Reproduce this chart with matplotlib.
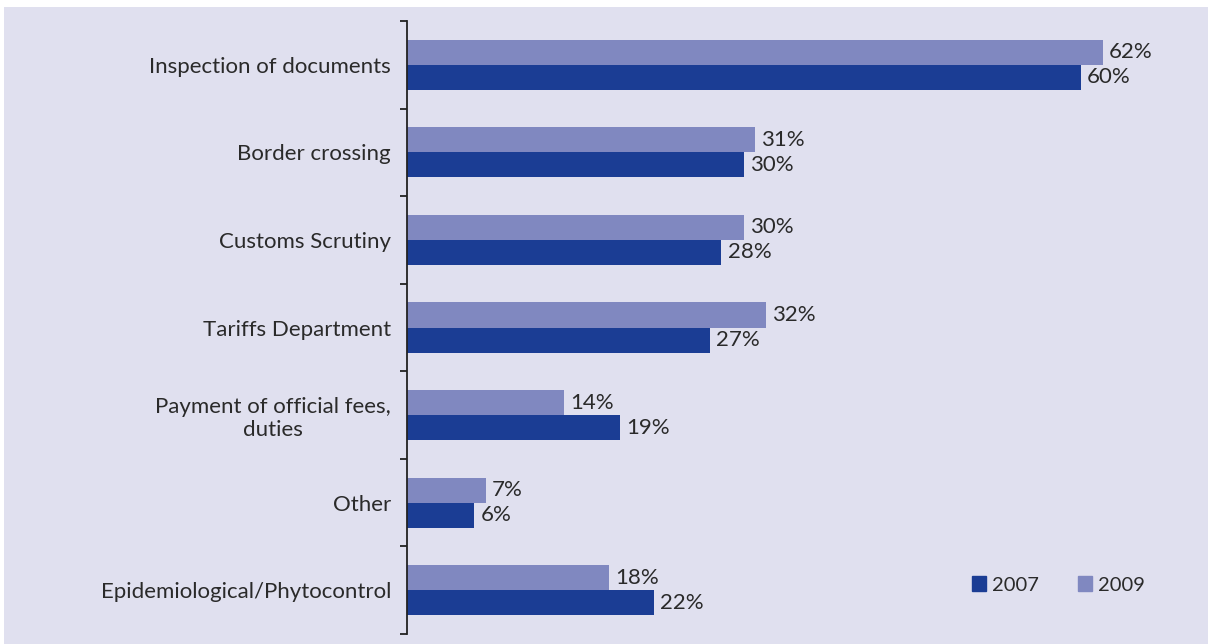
import matplotlib
matplotlib.use("Agg")
import matplotlib.pyplot as plt
from matplotlib.patches import Rectangle
import numpy as np

categories = [
    "Inspection of documents",
    "Border crossing",
    "Customs Scrutiny",
    "Tariffs Department",
    "Payment of official fees,\nduties",
    "Other",
    "Epidemiological/Phytocontrol",
]
values_2009 = [62, 31, 30, 32, 14, 7, 18]
values_2007 = [60, 30, 28, 27, 19, 6, 22]
series_labels = ["2007", "2009"]

BG = "#e0e0ef"
C2009 = "#8088c0"
C2007 = "#1b3d94"
TXT = "#2a2a2a"
FS = 16
LFS = 14.5

plt.rcParams["font.family"] = ["Lato", "DejaVu Sans"]

W, H = 1208, 644
fig = plt.figure(figsize=(W / 100, H / 100), dpi=100, facecolor="white")
fig.patches.append(Rectangle((4 / W, 0), 1 - 4 / W, 1 - 7 / H,
                             transform=fig.transFigure, facecolor=BG,
                             edgecolor="none", zorder=-10))

ax_left, ax_right = 407, 1208
ax_top, ax_bot = 21, 634
ax = fig.add_axes([ax_left / W, 1 - ax_bot / H, (ax_right - ax_left) / W,
                   (ax_bot - ax_top) / H])
ax.set_facecolor("none")

n = len(categories)
y = np.arange(n)
bh = 0.286
ax.barh(y - bh / 2, values_2009, height=bh, color=C2009, label="2009")
ax.barh(y + bh / 2, values_2007, height=bh, color=C2007, label="2007")

px_per_unit = 696 / 62
ax.set_xlim(0, (ax_right - ax_left) / px_per_unit)
ax.set_ylim(n - 0.5, -0.5)

for yi, v in zip(y, values_2009):
    ax.annotate(f"{v}%", (v, yi - bh / 2), xytext=(4.5, 0), textcoords="offset points",
                va="center", ha="left", fontsize=FS, color=TXT)
for yi, v in zip(y, values_2007):
    ax.annotate(f"{v}%", (v, yi + bh / 2), xytext=(4.5, 0), textcoords="offset points",
                va="center", ha="left", fontsize=FS, color=TXT)

for s in ["top", "right", "bottom"]:
    ax.spines[s].set_visible(False)
ax.spines["left"].set_color("#222222")
ax.spines["left"].set_linewidth(1.3)
ax.set_xticks([])

ax.set_yticks(y)
ax.set_yticklabels(categories, fontsize=FS, color=TXT, ha="right")
ax.set_yticks(np.arange(n + 1) - 0.5, minor=True)
ax.tick_params(axis="y", which="major", length=0, pad=11.5)
ax.tick_params(axis="y", which="minor", length=5, width=1.3, color="#222222")
for lbl in ax.get_yticklabels():
    lbl.set_multialignment("center")

# legend
h2007 = plt.Rectangle((0, 0), 1, 1, color=C2007)
h2009 = plt.Rectangle((0, 0), 1, 1, color=C2009)
leg = ax.legend([h2007, h2009], series_labels, loc="center left",
                bbox_to_anchor=((972 - ax_left) / (ax_right - ax_left),
                                (ax_bot - 585) / (ax_bot - ax_top)),
                ncol=2, frameon=False, fontsize=LFS, handlelength=0.7,
                handleheight=0.7, handletextpad=0.3, columnspacing=1.95,
                borderpad=0, borderaxespad=0, labelcolor=TXT)

fig.savefig("out.png", dpi=100, facecolor="white")
